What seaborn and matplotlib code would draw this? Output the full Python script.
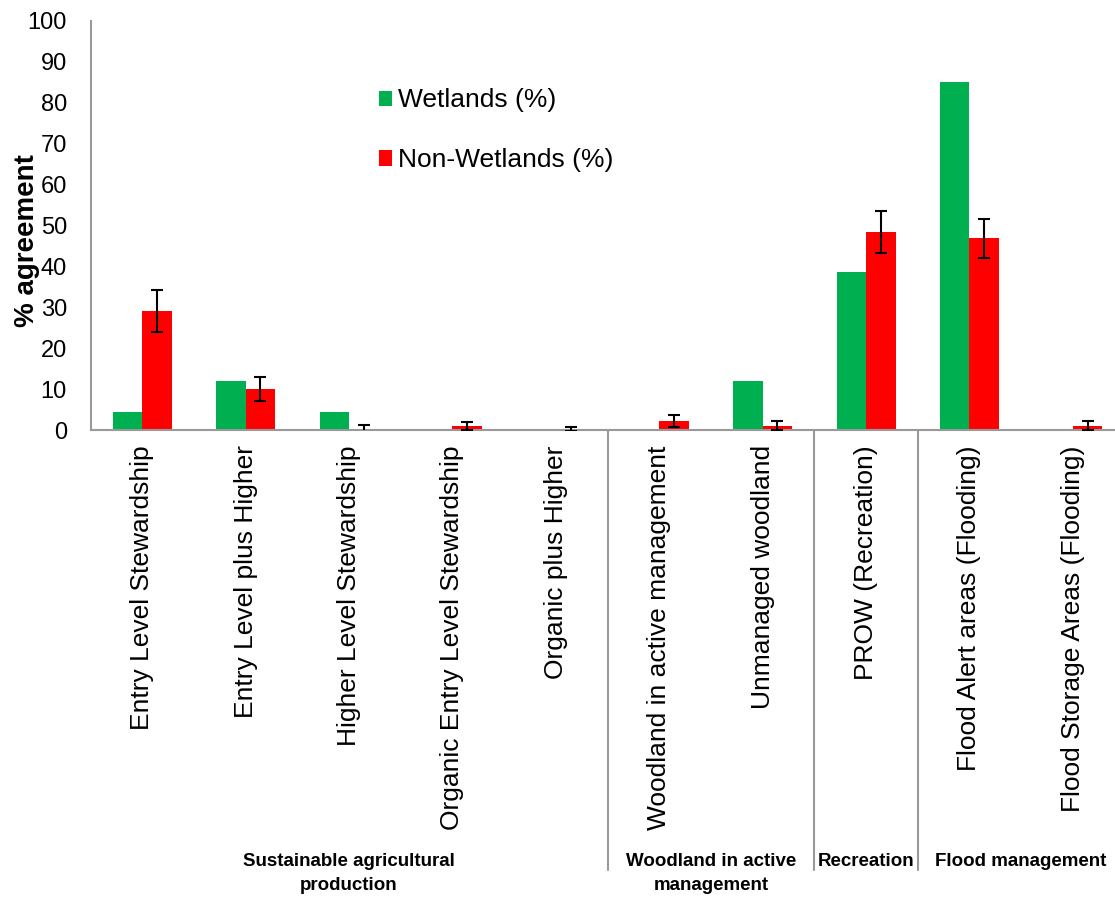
import numpy as np
import pandas as pd
import matplotlib
matplotlib.use("Agg")
import matplotlib.pyplot as plt
import matplotlib.transforms as mtransforms
import seaborn as sns

# data
categories = ["Entry Level Stewardship", "Entry Level plus Higher", "Higher Level Stewardship",
              "Organic Entry Level Stewardship", "Organic plus Higher", "Woodland in active management",
              "Unmanaged woodland", "PROW (Recreation)", "Flood Alert areas (Flooding)",
              "Flood Storage Areas (Flooding)"]
wetlands = [4.5, 12.0, 4.5, 0, 0, 0, 12.0, 38.7, 85.0, 0]
non_wetlands = [29.1, 10.0, 0.3, 1.0, 0.2, 2.2, 1.0, 48.5, 46.9, 1.1]
non_wetlands_err = [5.1, 2.9, 1.0, 1.0, 0.5, 1.4, 1.1, 5.1, 4.8, 1.1]

groups = ["Sustainable agricultural\nproduction", "Woodland in active\nmanagement",
          "Recreation", "Flood management"]
group_spans = [(0, 4), (5, 6), (7, 7), (8, 9)]
separators = [4.5, 6.5, 7.5]

df = pd.DataFrame({
    "category": categories * 2,
    "value": wetlands + non_wetlands,
    "series": ["Wetlands (%)"] * len(categories) + ["Non-Wetlands (%)"] * len(categories),
})

sns.set_style("white")
plt.rcParams['font.family'] = ['Liberation Sans', 'DejaVu Sans']
plt.rcParams['text.color'] = 'black'
plt.rcParams['axes.labelcolor'] = 'black'

fig = plt.figure(figsize=(11.15, 8.97), dpi=100)
# right end of the axis runs slightly past the figure edge, like the original
ax = fig.add_axes([0.0812, 0.5206, 0.9274, 0.456])

sns.barplot(data=df, x="category", y="value", hue="series", ax=ax,
            palette=["#00B050", "#FF0000"], saturation=1, width=0.57, gap=0,
            linewidth=0, errorbar=None)

# error bars on the red bars
red_bars = ax.containers[1]
xs = [b.get_x() + b.get_width() / 2 for b in red_bars]
ax.errorbar(xs, non_wetlands, yerr=non_wetlands_err, fmt="none", ecolor="black",
            elinewidth=1.5, capsize=4.5, capthick=1.5, zorder=5)

ax.set_xlim(-0.5, len(categories) - 0.5)
ax.set_ylim(0, 100)
ax.set_yticks(range(0, 101, 10))
ax.set_xticks(np.arange(-0.5, len(categories), 1.0), minor=False)
ax.set_xticklabels([])
ax.set_xticks(range(len(categories)), minor=True)
ax.set_xticklabels(categories, minor=True, rotation=90, fontsize=19)
ax.tick_params(axis="x", which="minor", length=0, pad=11, labelcolor="black")
ax.tick_params(axis="x", which="major", length=6, width=1.5, color="#999999", direction="out")
ax.tick_params(axis="y", length=6, width=1.5, color="#999999", direction="out",
               labelsize=17, pad=11, labelcolor="black")

for s in ["top", "right"]:
    ax.spines[s].set_visible(False)
for s in ["left", "bottom"]:
    ax.spines[s].set_color("#999999")
    ax.spines[s].set_linewidth(1.5)

ax.set_xlabel("")
ax.set_ylabel("% agreement", fontsize=20, fontweight="bold")
ax.yaxis.set_label_coords(-0.049, 0.462)

# group separators and labels below the axis
trans = mtransforms.blended_transform_factory(ax.transData, ax.transAxes)
for x in separators:
    ax.plot([x, x], [0, -1.076], transform=trans, color="#999999", lw=1.5, clip_on=False)
for name, (a, b) in zip(groups, group_spans):
    ax.text((a + b) / 2, -1.035, name, transform=trans, ha="center", va="top",
            fontsize=13.5, fontweight="bold", linespacing=1.5)

leg = ax.legend(loc="upper left", bbox_to_anchor=(0.2785, 0.835), frameon=False,
                fontsize=19, labelspacing=1.36, handlelength=0.5, handleheight=0.5,
                handletextpad=0.25, borderaxespad=0, borderpad=0)

fig.savefig("out.png", dpi=100)
